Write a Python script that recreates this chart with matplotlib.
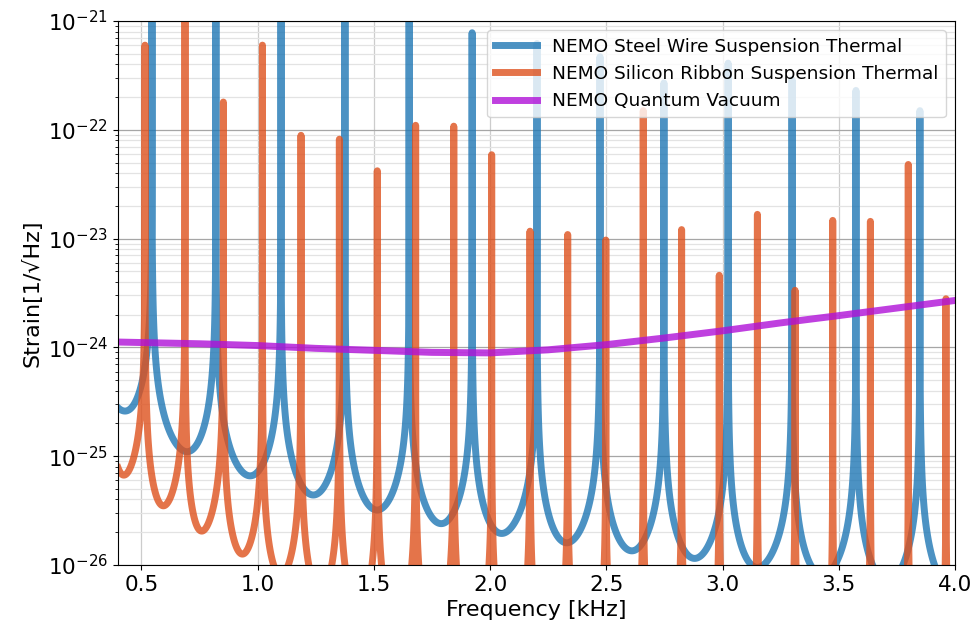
import numpy as np
import matplotlib
matplotlib.use("Agg")
import matplotlib.pyplot as plt
from matplotlib.ticker import NullFormatter, FixedLocator

plt.rcParams["path.simplify"] = False
plt.rcParams["font.family"] = ["DejaVu Sans"]

# ---- data (frequencies in kHz, strain in 1/sqrt(Hz)) ----
# Steel wire suspension thermal: resonance peaks and minima between them
steel_peak_f = [0.275, 0.546, 0.821, 1.101, 1.376, 1.652, 1.923, 2.202, 2.473,
                2.748, 3.024, 3.299, 3.574, 3.849, 4.124]
steel_peak_h = [1e-19, 1e-19, 1e-19, 1e-19, 1e-19, 1e-19, 7.8e-22, 6.2e-22, 4.7e-22,
                2.7e-22, 4.1e-22, 2.9e-22, 2.3e-22, 1.5e-22, 1e-22]
steel_trough_f = [0.43, 0.697, 0.968, 1.24, 1.514, 1.79, 2.05, 2.33, 2.61, 2.88,
                  3.15, 3.43, 3.71, 3.99]
steel_trough_h = [2.6e-25, 1.1e-25, 6.6e-26, 4.4e-26, 3.2e-26, 2.4e-26, 1.95e-26,
                  1.6e-26, 1.35e-26, 1.15e-26, 9.5e-27, 8e-27, 7e-27, 6e-27]

# Silicon ribbon suspension thermal
silicon_peak_f = [0.351, 0.516, 0.688, 0.853, 1.021, 1.187, 1.352, 1.515, 1.680,
                  1.844, 2.007, 2.172, 2.334, 2.498, 2.659, 2.824, 2.986, 3.150,
                  3.312, 3.474, 3.636, 3.799, 3.961, 4.125]
silicon_peak_h = [1e-22, 6.0e-22, 1e-19, 1.8e-22, 6.0e-22, 8.9e-23, 8.2e-23, 4.2e-23,
                  1.1e-22, 1.08e-22, 5.9e-23, 1.17e-23, 1.09e-23, 9.7e-24, 1.5e-22,
                  1.21e-23, 4.6e-24, 1.67e-23, 3.35e-24, 1.47e-23, 1.44e-23, 4.8e-23,
                  2.8e-24, 1e-23]
silicon_trough_f = [0.425, 0.595, 0.76, 0.935, 1.10, 1.27, 1.435, 1.60, 1.76, 1.925,
                    2.09, 2.253, 2.416, 2.578, 2.741, 2.905, 3.068, 3.231, 3.393,
                    3.555, 3.717, 3.88, 4.043]
silicon_trough_h = [6.7e-26, 3.5e-26, 2.05e-26, 1.26e-26, 8e-27, 5.5e-27, 4e-27, 3e-27,
                    2.4e-27, 2.0e-27, 1.7e-27, 1.45e-27, 1.25e-27, 1.1e-27, 1.0e-27,
                    9e-28, 8.2e-28, 7.5e-28, 7e-28, 6.5e-28, 6e-28, 5.6e-28, 5.2e-28]

# Quantum vacuum
quantum_f = [0.4, 0.75, 1.0, 1.25, 1.5, 1.75, 2.0, 2.25, 2.5, 2.75, 3.0, 3.25, 3.5, 3.75, 4.0]
quantum_h = [1.12e-24, 1.08e-24, 1.04e-24, 9.8e-25, 9.4e-25, 9.0e-25, 8.9e-25, 9.5e-25,
             1.06e-24, 1.22e-24, 1.42e-24, 1.68e-24, 1.96e-24, 2.3e-24, 2.7e-24]

labels = ["NEMO Steel Wire Suspension Thermal",
          "NEMO Silicon Ribbon Suspension Thermal",
          "NEMO Quantum Vacuum"]
x_ticks = [0.5, 1.0, 1.5, 2.0, 2.5, 3.0, 3.5, 4.0]
x_tick_labels = ["0.5", "1.0", "1.5", "2.0", "2.5", "3.0", "3.5", "4.0"]
y_exponents = [-26, -25, -24, -23, -22, -21]


def resonance_curve(f, pf, ph, tf, th):
    """Lorentzian-tail resonance shape through the read peaks and minima."""
    pf, ph, tf, th = map(np.asarray, (pf, ph, tf, th))
    out = np.full_like(f, np.nan)
    for i in range(len(pf) - 1):
        p0, p1 = pf[i], pf[i + 1]
        d = p1 - p0
        x = tf[i] - p0
        y = p1 - tf[i]
        a2 = th[i] ** 2 * x ** 3 / d
        b2 = th[i] ** 2 * y ** 3 / d
        g0 = np.sqrt(a2) / ph[i]
        g1 = np.sqrt(b2) / ph[i + 1]
        m = (f >= p0) & (f <= p1)
        fm = f[m]
        out[m] = np.sqrt(a2 / ((fm - p0) ** 2 + g0 ** 2) + b2 / ((p1 - fm) ** 2 + g1 ** 2))
    return out


f_grid = np.linspace(0.4, 4.0, 36001)
f_steel = np.union1d(f_grid, [p for p in steel_peak_f if 0.4 <= p <= 4.0])
f_sil = np.union1d(f_grid, [p for p in silicon_peak_f if 0.4 <= p <= 4.0])
h_steel = resonance_curve(f_steel, steel_peak_f, steel_peak_h, steel_trough_f, steel_trough_h)
h_sil = resonance_curve(f_sil, silicon_peak_f, silicon_peak_h, silicon_trough_f, silicon_trough_h)

fig = plt.figure(figsize=(9.78, 6.23), dpi=100)
ax = fig.add_axes([0.1207, 0.0931, 0.8558, 0.8732])

ax.plot(f_steel, h_steel, color="#1f77b4", alpha=0.8, lw=5, label=labels[0])
ax.plot(f_sil, h_sil, color="#de511d", alpha=0.8, lw=5, label=labels[1])
ax.plot(quantum_f, quantum_h, color="#b010d8", alpha=0.8, lw=5, label=labels[2])

ax.set_yscale("log")
ax.set_xlim(0.4, 4.0)
ax.set_ylim(1e-26, 1e-21)
ax.set_xticks(x_ticks)
ax.set_xticklabels(x_tick_labels)
ax.set_yticks([10.0 ** e for e in y_exponents])
ax.set_yticklabels([r"$10^{%d}$" % e for e in y_exponents])
minor_locs = [m * 10.0 ** e for e in y_exponents[:-1] for m in range(2, 10)]
ax.yaxis.set_minor_locator(FixedLocator(minor_locs))
ax.yaxis.set_minor_formatter(NullFormatter())
ax.tick_params(axis="both", which="major", labelsize=15.5)
ax.set_xlabel("Frequency [kHz]", fontsize=16)
ax.set_ylabel("Strain[1/\u221aHz]", fontsize=16)

ax.set_axisbelow(True)
ax.grid(which="major", axis="y", color="#a6a6a6", lw=0.9)
ax.grid(which="major", axis="x", color="#cccccc", lw=0.9)
ax.grid(which="minor", axis="y", color="#e3e3e3", lw=0.9)

ax.legend(loc="upper right", fontsize=13.3, handlelength=2.3, framealpha=0.8)

fig.savefig("out.png", dpi=100)
